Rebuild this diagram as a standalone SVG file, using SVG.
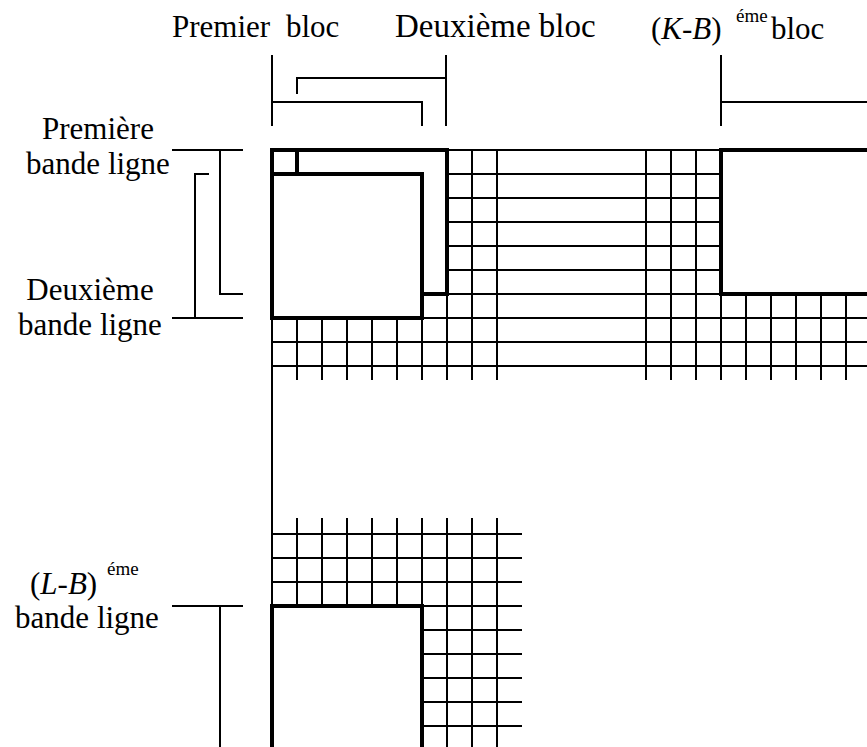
<svg xmlns="http://www.w3.org/2000/svg" width="867" height="747" viewBox="0 0 867 747">
<style>
text{font-family:"Liberation Serif","DejaVu Serif",serif;font-size:31px;fill:#000}
.sup{font-size:19px}
.it{font-style:italic}
.thin{stroke:#000;stroke-width:2;fill:none;stroke-linecap:butt}
.thick{stroke:#000;stroke-width:4;fill:none;stroke-linecap:square;stroke-linejoin:miter}
.br{stroke:#000;stroke-width:2;fill:none;stroke-linejoin:miter}
</style>
<rect width="867" height="747" fill="#fff"/>

<g id="labels" font-family="Liberation Serif, DejaVu Serif, serif">
  <text x="172" y="37">Premier <tspan x="286">bloc</tspan></text>
  <text x="395" y="37" style="font-size:33px">Deuxième bloc</text>
  <text x="651" y="38.5">(<tspan class="it">K</tspan>-<tspan class="it">B</tspan>)<tspan class="sup" x="736" y="22">éme</tspan><tspan x="771" y="38.5">bloc</tspan></text>
  <text x="98" y="139" text-anchor="middle">Première</text>
  <text x="98" y="174" text-anchor="middle">bande ligne</text>
  <text x="90" y="300" text-anchor="middle">Deuxième</text>
  <text x="90" y="335" text-anchor="middle">bande ligne</text>
  <text x="30" y="594">(<tspan class="it">L</tspan>-<tspan class="it">B</tspan>)<tspan class="sup" x="107" y="575">éme</tspan></text>
  <text x="87" y="628" text-anchor="middle">bande ligne</text>
</g>

<g id="brackets">
  <path class="br" d="M272 55V126M272 102H422V126"/>
  <path class="br" d="M446 55V126M446 78H297V94"/>
  <path class="br" d="M721 55V126M721 102H867"/>
  <path class="br" d="M172 150H243M220 150V294H243"/>
  <path class="br" d="M172 318H243M195 318V174H209"/>
  <path class="br" d="M172 606H243M220 606V747"/>
</g>

<g id="grid-top">
  <path class="thin" d="M447 150H721M447 174H721M447 198H721M447 222H721M447 246H721M447 270H721M447 294H721
    M272 318H867M272 342H867M272 366H867"/>
  <path class="thin" d="M472 150V380M497 150V380M646 150V380M671 150V380M696 150V380
    M447 294V380M422 318V380M297 318V380M322 318V380M347 318V380M372 318V380M397 318V380
    M721 294V380M746 294V380M771 294V380M796 294V380M821 294V380M846 294V380"/>
</g>

<g id="grid-bottom">
  <path class="thin" d="M272 318V606"/>
  <path class="thin" d="M272 534H522M272 558H522M272 582H522M422 606H522M422 630H522M422 654H522M422 678H522M422 702H522M422 726H522"/>
  <path class="thin" d="M297 518V606M322 518V606M347 518V606M372 518V606M397 518V606M422 518V606
    M447 518V747M472 518V747M497 518V747"/>
</g>

<g id="blocks">
  <path class="thick" d="M272 318V150H447V294H422"/>
  <path class="thick" d="M272 174H422V318H272"/>
  <path class="thick" d="M297 150V174"/>
  <path class="thick" d="M869 150H721V294H869"/>
  <path class="thick" d="M272 749V606H422V749"/>
</g>
</svg>
